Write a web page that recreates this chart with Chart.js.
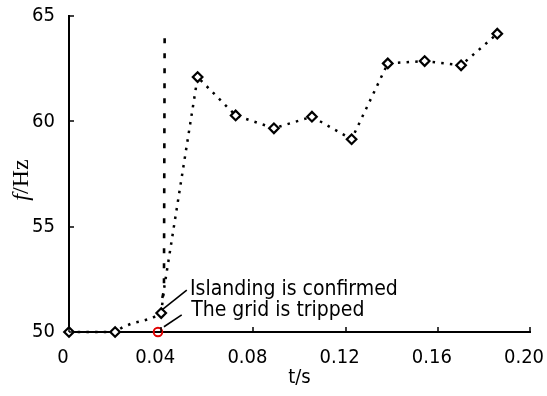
<!DOCTYPE html>
<html><head><meta charset="utf-8">
<script src="https://cdn.jsdelivr.net/npm/chart.js@4/dist/chart.umd.min.js"></script>
<style>html,body{margin:0;padding:0;background:#fff}</style>
</head><body>
<canvas id="c" width="547" height="396"></canvas>
<script>
// ---- data ----
const markerT = [0, 0.02, 0.04, 0.0558, 0.0723, 0.0889, 0.1054, 0.1226, 0.1383, 0.1543, 0.1701, 0.1858];
const markerF = [50, 50, 50.9, 62.1, 60.28, 59.67, 60.22, 59.15, 62.75, 62.86, 62.66, 64.16];
const dottedT = [0, 0.02, 0.0232, 0.0275, 0.0318, 0.036, 0.04, 0.0413, 0.0558, 0.0723, 0.0889, 0.1054, 0.1226, 0.1383, 0.1543, 0.1701, 0.1858];
const dottedF = [50, 50, 50.22, 50.42, 50.52, 50.66, 50.9, 52.1, 62.1, 60.28, 59.67, 60.22, 59.15, 62.75, 62.86, 62.66, 64.16];
const dashedT = [0.04, 0.0404, 0.0412, 0.0415];
const dashedF = [50.9, 51.57, 52.0, 64.33];
const trippedT = [0.0386];
const trippedF = [50];
const xTickLabels = ['0', '0.04', '0.08', '0.12', '0.16', '0.20'];
const yTickLabels = ['50', '55', '60', '65'];
const annotationTexts = ['Islanding is confirmed', 'The grid is tripped'];
const xTitle = 't/s';
const yTitleItalic = 'f';
const yTitleRest = '/Hz';

// ---- annotation geometry (data coordinates) ----
const annotations = [
  {text: annotationTexts[0], at: [0.0525, 51.78], from: [0.0402, 51.04], to: [0.0511, 51.99]},
  {text: annotationTexts[1], at: [0.0530, 50.74], from: [0.0412, 50.25], to: [0.0489, 50.81]}
];

const SANS = '"DejaVu Sans Condensed", "DejaVu Sans", sans-serif';
const pts = (xs, ys) => xs.map((x, i) => ({x: x, y: ys[i]}));

const extras = {
  id: 'extras',
  afterDraw(chart) {
    const ctx = chart.ctx, xs = chart.scales.x, ys = chart.scales.y;
    const a = chart.chartArea;
    ctx.save();
    ctx.strokeStyle = '#000';
    ctx.lineWidth = 1.5;
    // inward tick marks
    xs.ticks.forEach(t => {
      const px = Math.round(xs.getPixelForValue(t.value));
      ctx.beginPath(); ctx.moveTo(px, a.bottom); ctx.lineTo(px, a.bottom - 5); ctx.stroke();
    });
    ys.ticks.forEach(t => {
      const py = Math.round(ys.getPixelForValue(t.value));
      ctx.beginPath(); ctx.moveTo(a.left, py); ctx.lineTo(a.left + 5, py); ctx.stroke();
    });
    // annotations
    ctx.lineWidth = 1.6;
    ctx.fillStyle = '#000';
    ctx.font = '21px ' + SANS;
    ctx.textBaseline = 'alphabetic';
    ctx.textAlign = 'left';
    annotations.forEach(an => {
      ctx.beginPath();
      ctx.moveTo(xs.getPixelForValue(an.from[0]), ys.getPixelForValue(an.from[1]));
      ctx.lineTo(xs.getPixelForValue(an.to[0]), ys.getPixelForValue(an.to[1]));
      ctx.stroke();
      ctx.fillText(an.text, xs.getPixelForValue(an.at[0]), ys.getPixelForValue(an.at[1]));
    });
    // y-axis title, mixed italic / roman
    ctx.translate(22, (a.top + a.bottom) / 2 + 6);
    ctx.rotate(-Math.PI / 2);
    ctx.textBaseline = 'middle';
    const fi = 'italic 24px "Liberation Serif", "Times New Roman", serif';
    const fr = '24px "Liberation Serif", "Times New Roman", serif';
    ctx.font = fi; const w1 = ctx.measureText(yTitleItalic).width;
    ctx.font = fr; const w2 = ctx.measureText(yTitleRest).width;
    const x0 = -(w1 + w2) / 2;
    ctx.font = fi; ctx.fillText(yTitleItalic, x0, 0);
    ctx.font = fr; ctx.fillText(yTitleRest, x0 + w1, 0);
    ctx.restore();
  }
};

new Chart(document.getElementById('c'), {
  type: 'line',
  data: {
    datasets: [
      {
        data: pts(markerT, markerF), showLine: false, clip: false,
        pointStyle: 'rectRot', pointRadius: 4.8, pointHoverRadius: 4.8,
        pointBorderWidth: 2.2, pointBorderColor: '#000', pointBackgroundColor: '#fff'
      },
      {
        data: pts(trippedT, trippedF), showLine: false, clip: false,
        pointStyle: 'circle', pointRadius: 4.3, pointBorderWidth: 2,
        pointBorderColor: '#e00000', pointBackgroundColor: 'rgba(255,255,255,0)'
      },
      {
        data: pts(dashedT, dashedF), clip: false, pointRadius: 0,
        borderColor: '#000', borderWidth: 2.6, borderDash: [5, 10], tension: 0
      },
      {
        data: pts(dottedT, dottedF), clip: false, pointRadius: 0,
        borderColor: '#000', borderWidth: 2.5, borderDash: [2.5, 6.2], tension: 0
      }
    ]
  },
  options: {
    responsive: false, animation: false,
    layout: {padding: {top: 16, right: 17, left: 0, bottom: 0}},
    plugins: {legend: {display: false}, tooltip: {enabled: false}},
    scales: {
      x: {
        type: 'linear', min: 0, max: 0.2,
        afterBuildTicks: s => { s.ticks = xTickLabels.map(v => ({value: parseFloat(v)})); },
        afterFit: s => { s.height = 64; s.paddingLeft = 0; s.paddingRight = 0; },
        grid: {display: false},
        border: {display: true, color: '#000', width: 2},
        ticks: {
          color: '#000', padding: 6, maxRotation: 0, autoSkip: false, labelOffset: -6,
          font: {family: SANS, size: 20},
          callback: (v, i) => xTickLabels[i]
        },
        title: {
          display: true, text: xTitle, color: '#000',
          font: {family: SANS, size: 20},
          padding: {top: 0, bottom: 6}
        }
      },
      y: {
        type: 'linear', min: 50, max: 65,
        afterBuildTicks: s => { s.ticks = yTickLabels.map(v => ({value: parseFloat(v)})); },
        afterFit: s => { s.width = 69; s.paddingTop = 0; s.paddingBottom = 0; },
        grid: {display: false},
        border: {display: true, color: '#000', width: 2},
        ticks: {
          color: '#000', padding: 6,
          font: {family: SANS, size: 20},
          callback: (v, i) => yTickLabels[i]
        }
      }
    }
  },
  plugins: [extras]
});
</script>
</body></html>
